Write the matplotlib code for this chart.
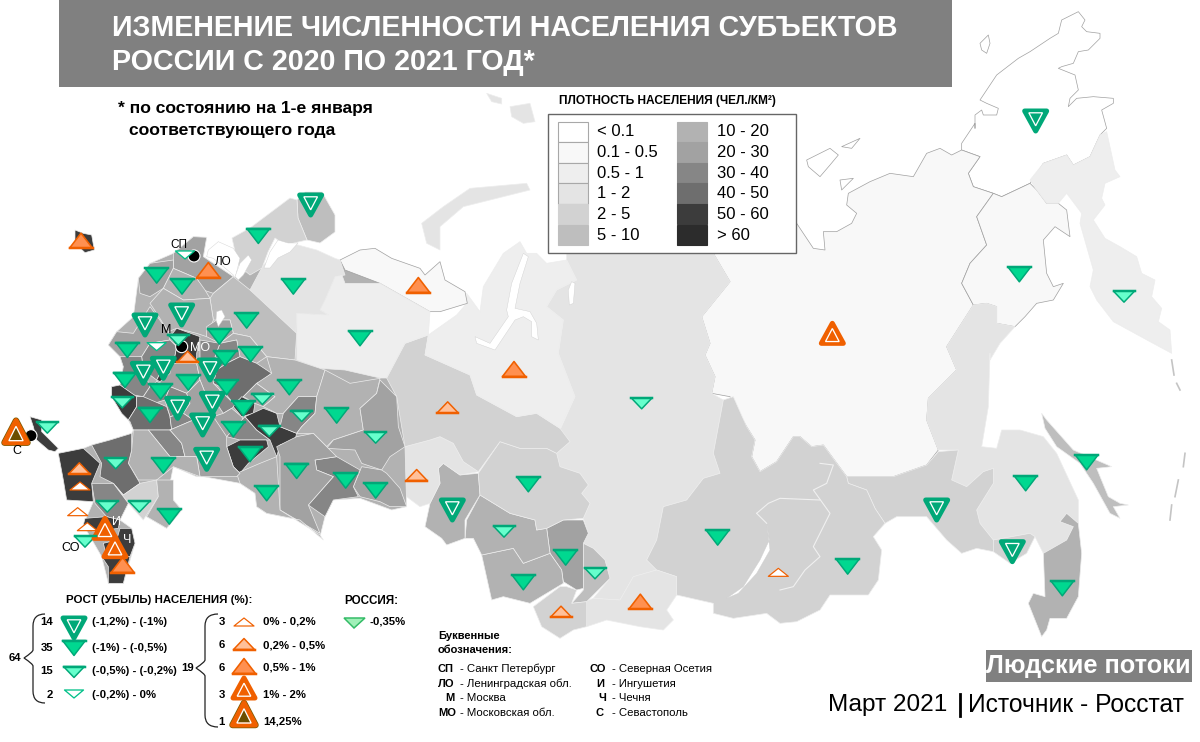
import matplotlib
matplotlib.use('Agg')
import matplotlib.pyplot as plt
from matplotlib.patches import Polygon, Rectangle, Circle, PathPatch
from matplotlib.path import Path

plt.rcParams['font.family'] = ['Liberation Sans', 'DejaVu Sans']


# each zoomed crop of the map has its own offset, outlines below are kept as read from them
def z1(pts):
    return [(x / 3, 200 + y / 3) for x, y in pts]
def z5(pts):
    return [(380 + x / 3, 240 + y / 3) for x, y in pts]
def z6(pts):
    return [(780 + x / 3, 60 + y / 3) for x, y in pts]
def z7(pts):
    return [(780 + x / 3, 340 + y / 3) for x, y in pts]
def z9(pts):
    return [(950 + x / 3, y / 3) for x, y in pts]
def z3(pts):
    return [(420 + x / 3, 80 + y / 3) for x, y in pts]


# density classes
density_labels = ['< 0.1', '0.1 - 0.5', '0.5 - 1', '1 - 2', '2 - 5', '5 - 10',
                  '10 - 20', '20 - 30', '30 - 40', '40 - 50', '50 - 60', '> 60']
density_colors = ['#ffffff', '#f8f8f8', '#eeeeee', '#e4e4e4', '#d2d2d2', '#bebebe',
                  '#b2b2b2', '#a2a2a2', '#868686', '#6e6e6e', '#3c3c3c', '#2c2c2c']

# far east and siberia
chukotka = z9([(75, 385), (75, 345), (95, 330), (100, 345), (140, 345), (145, 325), (110, 310), (90, 300), (130, 240),
               (140, 225), (205, 175), (240, 155), (300, 115), (325, 100), (335, 60), (385, 35), (405, 60), (395, 80),
               (410, 95), (450, 100), (450, 115), (415, 150), (385, 155), (370, 190), (335, 200), (325, 205), (375, 225),
               (385, 270), (360, 295), (355, 320), (380, 295), (430, 290), (490, 295), (490, 310), (455, 330), (470, 385)]) + \
    z6([(960, 225), (930, 290), (880, 315), (860, 285), (790, 310), (750, 370), (665, 410), (640, 400), (580, 380),
        (565, 340), (600, 290), (545, 270), (545, 250), (585, 190)])
wrangel = z9([(90, 130), (115, 105), (120, 130), (110, 160), (95, 150)])
sib_island_a = z6([(80, 300), (120, 280), (150, 265), (175, 285), (150, 315), (120, 350), (85, 320)])
sib_island_b = z6([(185, 260), (240, 235), (215, 265)])
sib_island_c = z6([(180, 360), (220, 355), (185, 390)])
yakutia = z5([(1000, 40), (1050, 125), (965, 230), (990, 310), (975, 345), (1005, 410), (995, 460), (1050, 470),
              (1100, 560), (1125, 600), (1115, 650), (1140, 695), (1190, 665), (1240, 590), (1260, 590)]) + \
    z7([(95, 320), (130, 315), (200, 410), (340, 410), (440, 375), (475, 330), (440, 240), (445, 175), (530, 90), (500, 20)]) + \
    z6([(580, 735), (545, 670), (570, 610), (620, 555), (590, 470), (640, 400), (580, 380), (565, 340), (600, 290),
        (545, 270), (515, 285), (480, 265), (440, 280), (400, 350), (330, 340), (270, 365), (205, 400), (200, 435),
        (230, 460), (215, 490), (170, 515), (130, 515), (135, 570), (100, 565), (50, 490)])
magadan = z6([(640, 400), (665, 410), (750, 370), (770, 390), (800, 430), (835, 430), (860, 450), (870, 530), (825, 500),
              (790, 540), (800, 640), (820, 680), (850, 670), (820, 720), (770, 730), (735, 770), (705, 800), (650, 790),
              (650, 740), (620, 730), (580, 735), (545, 670), (570, 610), (620, 555), (590, 470)])
kamchatka = z6([(750, 360), (790, 310), (860, 285), (880, 315), (930, 290), (960, 225), (980, 215), (1005, 330),
                (1020, 350), (975, 370), (965, 415), (975, 435), (940, 480), (975, 535), (1020, 560), (1070, 590),
                (1085, 640), (1125, 660), (1115, 710), (1145, 745), (1135, 785), (1170, 810), (1175, 880), (1110, 845),
                (1000, 785), (950, 720), (930, 680), (940, 630), (900, 490), (905, 460), (860, 400), (835, 430),
                (800, 430), (770, 390)])
khabarovsk = z6([(580, 735), (620, 730), (650, 740), (650, 790), (705, 800), (660, 850), (630, 900)]) + \
    z7([(630, 40), (625, 200), (605, 320), (650, 325), (665, 270), (720, 270), (790, 290), (830, 340), (895, 480),
        (895, 550), (860, 520), (840, 545), (880, 560), (860, 600), (790, 640), (765, 590), (750, 580), (640, 600),
        (600, 550), (590, 510), (640, 430), (640, 385), (610, 395), (560, 440), (515, 420), (535, 330), (475, 330),
        (440, 240), (445, 175), (530, 90), (500, 20)])
amur = z7([(475, 335), (535, 330), (515, 420), (560, 440), (610, 395), (640, 385), (640, 430), (590, 510), (600, 550),
           (640, 600), (640, 635), (590, 625), (545, 640), (500, 600), (440, 530), (350, 530), (315, 550), (285, 505),
           (260, 450), (205, 430), (200, 410), (340, 410), (440, 375)])
jewish_ao = z7([(640, 600), (750, 580), (765, 590), (740, 640), (690, 670), (640, 635)])
primorye = z7([(895, 550), (905, 640), (895, 770), (860, 835), (810, 835), (800, 870), (785, 890), (745, 790), (760, 760),
               (795, 770), (790, 640), (860, 600), (880, 560), (840, 545), (860, 520)])
sakhalin = z7([(785, 220), (800, 240), (880, 330), (995, 380), (950, 385), (985, 470), (1020, 490), (1045, 495),
               (1000, 500), (1020, 535), (990, 520), (940, 430), (900, 370), (830, 320), (795, 265)])
east_siberia = z5([(1030, 480), (1060, 470), (1100, 560), (1125, 600), (1115, 650), (1140, 695), (1190, 665), (1240, 590),
                   (1260, 590)]) + \
    z7([(95, 320), (130, 315), (200, 410), (205, 430), (260, 450), (285, 505), (315, 550), (280, 590), (305, 630), (295, 720),
        (265, 765), (150, 765), (120, 810), (50, 845), (0, 850)]) + \
    z5([(1160, 1120), (1060, 1135), (1000, 1120), (1000, 1090), (890, 1065), (890, 1010), (830, 990), (800, 960), (830, 900),
        (850, 800), (920, 780), (970, 715), (1020, 700), (1000, 640)])
krasnoyarsk = z5([(560, 0), (1000, 0), (1000, 40), (1050, 125), (965, 230), (990, 310), (975, 345), (1005, 410), (995, 460),
                  (1030, 480), (1000, 640), (1020, 700), (970, 715), (920, 780), (850, 800), (830, 900), (800, 960), (830, 990),
                  (760, 1010), (720, 1080), (640, 1075), (690, 1015), (675, 960), (640, 925), (610, 910), (625, 880), (610, 835),
                  (630, 790), (605, 760), (625, 735), (600, 700), (540, 680), (530, 640), (570, 605), (540, 570), (585, 470),
                  (535, 340), (550, 240), (500, 200), (530, 150), (590, 120), (560, 60)])
tuva = z5([(640, 1075), (720, 1080), (760, 1010), (830, 990), (890, 1010), (890, 1065), (860, 1110), (880, 1140), (850, 1170),
           (780, 1160), (680, 1140), (620, 1160), (600, 1090)])
khakassia = z5([(610, 910), (640, 925), (675, 960), (690, 1015), (620, 1085), (575, 1090), (610, 1050), (610, 970)])
altai_rep = z5([(460, 1100), (540, 1040), (560, 1040), (590, 1050), (575, 1090), (620, 1085), (620, 1160), (580, 1170),
                (540, 1195), (485, 1160)])
kemerovo = z5([(500, 865), (550, 840), (610, 840), (625, 880), (610, 910), (610, 970), (610, 1045), (590, 1050), (550, 1025),
               (545, 990), (510, 940)])
altai_krai = z5([(305, 945), (400, 925), (430, 970), (510, 940), (545, 990), (550, 1030), (450, 1090), (370, 1070), (335, 1080)])
novosibirsk = z5([(260, 840), (300, 765), (390, 820), (465, 840), (470, 870), (500, 865), (510, 940), (430, 970), (400, 925),
                  (305, 945), (280, 895), (255, 895)])
omsk = z5([(175, 685), (190, 670), (240, 705), (295, 700), (300, 765), (255, 840), (255, 895), (200, 915), (185, 895), (135, 860),
           (150, 790), (180, 730)])
tomsk = z5([(295, 700), (360, 605), (420, 625), (500, 625), (530, 640), (540, 680), (600, 700), (625, 735), (605, 760), (630, 790),
            (610, 835), (550, 840), (500, 865), (470, 870), (465, 840), (390, 820), (300, 765)])
tyumen = z5([(30, 650), (75, 620), (150, 600), (180, 590), (220, 610), (250, 665), (295, 695), (240, 705), (190, 670), (175, 685),
             (180, 730), (150, 790), (120, 800), (80, 770), (60, 745), (20, 700)])
khmao = z5([(20, 400), (75, 310), (145, 285), (135, 345), (270, 405), (290, 465), (410, 530), (470, 520), (540, 565), (570, 605),
            (530, 640), (500, 625), (420, 625), (360, 605), (295, 695), (250, 665), (220, 610), (180, 590), (150, 600), (75, 620),
            (55, 560), (50, 470), (0, 420)])
yanao = z5([(145, 285), (135, 345), (270, 405), (290, 465), (410, 530), (470, 520), (540, 565), (585, 470), (535, 340), (550, 240),
            (500, 200), (530, 150), (590, 120), (560, 60), (500, 70), (470, 40), (440, 40), (420, 5), (370, 40), (310, 140), (300, 215),
            (260, 160), (260, 190), (230, 225)])
ob_gulf = z5([(430, 40), (445, 50), (420, 130), (405, 205), (450, 215), (470, 250), (475, 300), (455, 290), (455, 245), (430, 230),
              (405, 240), (345, 330), (290, 310), (285, 290), (330, 310), (385, 230), (380, 210), (395, 130)])
taz_gulf = z5([(575, 125), (585, 130), (580, 190), (568, 195), (565, 150)])

# north-west and north
novaya_zemlya = z3([(5, 430), (70, 380), (150, 325), (320, 310), (330, 330), (250, 350), (130, 380), (60, 440), (60, 510), (20, 490)])
franz_a = z3([(200, 40), (245, 55), (245, 72), (215, 65)])
franz_b = z3([(270, 80), (330, 70), (345, 125), (310, 130), (275, 110)])
nenets = z5([(-120, 60), (-60, 30), (-15, 25), (35, 55), (120, 85), (135, 105), (180, 65), (195, 120), (255, 155), (262, 190), (180, 215),
             (150, 215), (0, 130), (-105, 90)])
komi = z1([(890, 480), (960, 505), (1035, 510), (1140, 534), (1160, 534), (1215, 430), (1285, 405), (1290, 335),
           (1140, 250), (1035, 250), (1020, 210), (1005, 230), (975, 300), (960, 330), (985, 345), (890, 340)])
arkhangelsk = z1([(750, 270), (790, 195), (830, 160), (855, 125), (894, 135), (950, 150), (1005, 175), (1020, 180), (1035, 225), (1005, 230),
                  (975, 300), (960, 330), (985, 345), (890, 340), (885, 480), (890, 400)])
murmansk = [(297, 200), (305, 192), (322, 192), (335, 215), (335, 232), (320, 243), (307, 240), (298, 218)]
karelia = [(232, 238), (250, 228), (290, 198), (297, 200), (298, 218), (307, 240), (285, 245), (275, 238), (268, 252), (262, 268), (250, 275), (238, 265)]
white_sea = [(278, 240), (288, 243), (298, 243), (290, 252), (278, 258), (270, 268), (264, 268), (270, 252)]

# silhouette under the european regions so no gaps show between them
europe_base = z1([(325, 435), (350, 395), (400, 350), (415, 235), (450, 190), (520, 160), (580, 110), (620, 112), (610, 170), (700, 230),
                  (790, 195), (1020, 180), (1140, 250), (1290, 335), (1215, 430), (1160, 534), (1190, 590), (1215, 740), (1220, 920),
                  (1175, 930), (1080, 895), (1000, 900), (975, 950), (960, 1010), (900, 960), (800, 940), (770, 920), (765, 880),
                  (720, 850), (610, 830), (590, 830), (520, 800), (510, 850), (520, 900), (545, 930), (500, 985), (440, 950), (385, 910),
                  (360, 960), (395, 985), (405, 1030), (370, 1150), (325, 1150), (305, 1070), (250, 975), (280, 905), (200, 900),
                  (190, 840), (175, 760), (250, 745), (275, 735), (330, 720), (395, 700), (400, 690), (385, 660), (365, 640), (335, 590),
                  (335, 560), (360, 555), (370, 500), (360, 470)])

# european centre
leningrad = z1([(520, 160), (580, 110), (620, 112), (610, 170), (700, 230), (640, 280), (610, 270), (590, 235), (520, 205)])
pskov = z1([(415, 235), (450, 190), (520, 180), (520, 205), (490, 265), (450, 290), (420, 280)])
novgorod = z1([(520, 205), (590, 235), (615, 270), (630, 295), (550, 300), (490, 265)])
vologda = z1([(640, 280), (700, 230), (750, 270), (890, 400), (885, 480), (800, 470), (750, 410), (700, 400), (690, 360), (640, 360), (630, 295)])
tver = z1([(450, 310), (490, 265), (550, 300), (630, 295), (640, 360), (620, 410), (590, 400), (530, 385), (505, 395), (470, 340)])
smolensk = z1([(325, 435), (350, 395), (400, 400), (450, 320), (505, 395), (510, 420), (450, 430), (425, 470), (380, 480), (360, 470)])
yaroslavl = z1([(620, 380), (650, 360), (690, 360), (700, 400), (660, 430), (620, 410)])
kostroma = z1([(700, 400), (750, 410), (800, 470), (770, 490), (720, 470), (710, 420), (660, 430)])
ivanovo = z1([(660, 430), (710, 420), (720, 470), (680, 490), (645, 470)])
vladimir = z1([(600, 420), (660, 430), (645, 470), (680, 490), (650, 510), (600, 490)])
nizhny = z1([(680, 490), (720, 470), (770, 490), (815, 520), (790, 540), (770, 550), (730, 590), (700, 610), (660, 560), (640, 550), (650, 510)])
moscow_obl = z1([(510, 410), (530, 385), (600, 410), (590, 460), (590, 490), (520, 490), (530, 440)])
kaluga = z1([(450, 430), (510, 420), (530, 440), (520, 490), (490, 500), (470, 540), (430, 510), (425, 470)])
bryansk = z1([(360, 470), (425, 470), (430, 510), (450, 560), (430, 590), (400, 585), (360, 555), (370, 500)])
tula = z1([(490, 500), (520, 490), (590, 490), (600, 540), (560, 580), (510, 560), (470, 545)])
ryazan = z1([(590, 490), (650, 510), (640, 550), (660, 570), (650, 610), (620, 590), (600, 540)])
orel = z1([(430, 590), (450, 560), (470, 545), (510, 560), (495, 600), (430, 620), (410, 600)])
lipetsk = z1([(510, 560), (560, 580), (570, 610), (550, 640), (510, 650), (495, 600)])
tambov = z1([(560, 580), (600, 540), (620, 590), (650, 610), (640, 650), (580, 660), (550, 640), (570, 610)])
mordovia = z1([(650, 610), (660, 570), (700, 610), (730, 595), (695, 625), (670, 640)])
penza = z1([(640, 650), (670, 640), (695, 625), (725, 650), (735, 670), (680, 710), (640, 700)])
ulyanovsk = z1([(735, 650), (770, 690), (810, 720), (800, 720), (720, 720), (680, 710)])
kursk_dark = z1([(335, 560), (360, 555), (410, 590), (410, 620), (385, 660), (365, 640), (335, 590)])
kursk = z1([(410, 590), (430, 590), (500, 620), (510, 650), (515, 690), (445, 690), (400, 690), (390, 665), (385, 660), (410, 620)])
voronezh = z1([(515, 690), (510, 650), (550, 640), (580, 660), (510, 690), (545, 730), (555, 770), (510, 770), (445, 690)])
tula_dark = z1([(470, 540), (490, 500), (510, 490), (510, 520), (480, 545)])
chuvashia = z1([(700, 620), (725, 590), (765, 610), (760, 640), (725, 650)])
mari = z1([(730, 590), (770, 550), (825, 590), (790, 620), (765, 610)])
tatarstan = z1([(735, 650), (790, 625), (830, 640), (840, 680), (890, 700), (885, 720), (840, 735), (830, 770), (810, 720), (770, 690)])
samara_dark = z1([(680, 740), (720, 720), (800, 720), (805, 740), (745, 790), (720, 820), (700, 800)])
kirov = z1([(770, 550), (815, 520), (800, 470), (885, 480), (975, 510), (960, 560), (950, 590), (895, 590), (850, 640), (830, 640),
            (790, 620), (825, 590)])
udmurtia = z1([(850, 640), (895, 590), (950, 590), (945, 640), (905, 680), (890, 700), (840, 680)])
perm = z1([(975, 510), (1050, 550), (1140, 535), (1130, 580), (1080, 625), (1090, 690), (1000, 720), (980, 740), (940, 700), (890, 700),
           (905, 680), (945, 640), (950, 590)])
sverdlovsk = z1([(1140, 540), (1190, 590), (1195, 680), (1215, 740), (1170, 770), (1145, 810), (1085, 790), (1065, 750), (980, 745), (1000, 720),
                 (1090, 690), (1080, 625), (1130, 580)])
chelyabinsk = z1([(1085, 800), (1145, 810), (1160, 820), (1200, 865), (1220, 920), (1170, 920), (1140, 905), (1080, 890), (1060, 860)])
bashkiria = z1([(945, 780), (1010, 770), (1080, 810), (1060, 860), (1075, 890), (1000, 900), (975, 950), (925, 915), (1000, 830), (950, 810)])
samara = z1([(830, 740), (890, 710), (940, 700), (980, 740), (1010, 770), (945, 780), (950, 810), (1000, 830), (925, 915), (960, 1000), (840, 930), (840, 770)])
saratov = z1([(710, 820), (780, 790), (830, 770), (840, 930), (960, 1005), (970, 1020), (900, 960), (800, 940), (770, 920), (765, 880), (720, 850)])
volgograd_n = z1([(510, 690), (580, 660), (640, 650), (680, 710), (680, 740), (700, 800), (720, 820), (710, 830), (600, 830), (590, 770), (555, 770), (545, 730)])
volgograd = z1([(445, 690), (510, 770), (555, 770), (590, 770), (600, 830), (520, 800), (470, 840), (415, 840), (385, 790), (395, 750), (400, 690)])
rostov = z1([(275, 735), (330, 720), (395, 700), (395, 750), (385, 790), (420, 850), (370, 885), (340, 850), (300, 830), (305, 790)])
kalmykia = z1([(340, 850), (370, 885), (420, 850), (470, 840), (475, 890), (430, 960), (385, 910)])
astrakhan = z1([(470, 840), (520, 840), (520, 900), (545, 930), (500, 985), (440, 950), (475, 890)])
stavropol = z1([(275, 850), (340, 850), (385, 910), (360, 960), (320, 950), (285, 910)])
krasnodar = z1([(175, 760), (250, 745), (300, 790), (275, 850), (280, 905), (200, 900), (190, 840)])
caucasus_w = z1([(255, 955), (320, 950), (360, 960), (355, 985), (280, 995), (250, 975)])
chechnya = z1([(360, 985), (395, 985), (405, 1030), (390, 1070), (320, 1070), (310, 1030), (350, 1020)])
dagestan = z1([(305, 1070), (390, 1070), (370, 1150), (325, 1150), (325, 1100)])
crimea = z1([(90, 650), (125, 660), (125, 695), (175, 745), (165, 755), (145, 750), (110, 720), (100, 680)])
kaliningrad = z1([(225, 90), (250, 100), (275, 105), (283, 150), (255, 158), (225, 130)])

# (region outline, index into density_colors), drawn in this order
regions = [
    (chukotka, 0), (wrangel, 0), (sib_island_a, 0), (sib_island_b, 0), (sib_island_c, 0), (yakutia, 1), (magadan, 1),
    (kamchatka, 2), (khabarovsk, 3), (amur, 4), (jewish_ao, 4),
    (primorye, 6), (sakhalin, 5), (krasnoyarsk, 3), (east_siberia, 4), (tuva, 3), (khakassia, 5), (altai_rep, 4),
    (kemerovo, 7), (altai_krai, 6), (novosibirsk, 6), (omsk, 6), (tomsk, 4), (tyumen, 3), (khmao, 4), (yanao, 2),
    (novaya_zemlya, 3), (franz_a, 3), (franz_b, 3), (europe_base, 6), (nenets, 1), (komi, 2), (arkhangelsk, 3), (murmansk, 5), (karelia, 4),
    (leningrad, 7), (pskov, 7), (novgorod, 6), (vologda, 5), (tver, 6), (smolensk, 7), (yaroslavl, 7), (kostroma, 6), (ivanovo, 8),
    (vladimir, 8), (nizhny, 9), (moscow_obl, 10), (kaluga, 8), (bryansk, 8), (tula, 7), (ryazan, 7), (orel, 8), (lipetsk, 8), (tambov, 7),
    (mordovia, 8), (penza, 7), (ulyanovsk, 8), (kursk_dark, 10), (kursk, 9), (voronezh, 8), (tula_dark, 10), (chuvashia, 10), (mari, 7),
    (tatarstan, 10), (samara_dark, 10), (kirov, 6), (udmurtia, 8), (perm, 6), (sverdlovsk, 7), (chelyabinsk, 7), (bashkiria, 8),
    (samara, 7), (saratov, 6), (volgograd_n, 7), (volgograd, 6), (rostov, 9), (kalmykia, 4), (astrakhan, 6), (stavropol, 8),
    (krasnodar, 10), (caucasus_w, 10), (chechnya, 10), (dagestan, 10), (crimea, 10), (kaliningrad, 10),
]
baikal = z5([(1160, 850), (1168, 900), (1140, 960), (1090, 1040), (1040, 1075), (1075, 1060), (1130, 1000), (1170, 930)])
ladoga = z1([(625, 150), (655, 125), (700, 145), (720, 175), (705, 235), (700, 225), (640, 175), (620, 170)])
rybinsk = z1([(650, 335), (665, 330), (675, 350), (655, 380), (648, 360)])
onega = z1([(720, 190), (745, 165), (755, 180), (730, 225), (715, 240), (705, 230)])
water = [ob_gulf, taz_gulf, white_sea, baikal, ladoga, rybinsk, onega]
kuril_arcs = [z7([(1175, 60), (1182, 105)]), z7([(1190, 130), (1200, 150)]), z7([(1215, 340), (1210, 380)]),
              z7([(1195, 420), (1185, 470)]), z7([(1175, 495), (1170, 540)])]
city_dots = [z1([(582, 168)])[0], z1([(545, 440)])[0], z1([(93, 707)])[0]]

# triangle positions by change class
tri_d4 = z1([(545, 345), (435, 375), (430, 520), (490, 505), (630, 510), (533, 625), (637, 610), (608, 675), (620, 778), (932, 15)]) + \
    z6([(767, 183)]) + z5([(217, 810)]) + z7([(470, 510), (697, 635)])
tri_d3 = z1([(775, 108), (470, 227), (546, 260), (880, 260), (740, 362), (1080, 415), (658, 410), (752, 463), (675, 475), (382, 450),
             (375, 540), (482, 575), (565, 548), (680, 562), (868, 562), (450, 645), (730, 625), (700, 688), (1010, 647), (750, 763),
             (490, 797), (890, 813), (800, 880), (1037, 842), (1127, 872), (508, 950)]) + \
    z5([(445, 733), (557, 953), (430, 1027), (1013, 893)]) + z7([(203, 680), (737, 430), (847, 745), (920, 367)]) + z6([(718, 643)])
tri_d2 = z1([(142, 683), (787, 597), (905, 648), (808, 693), (1127, 713), (347, 790), (322, 920), (418, 920), (255, 1025), (367, 607), (535, 420)]) + \
    z5([(785, 490), (372, 875), (645, 1000)]) + z6([(1032, 710)])
tri_d1 = z1([(555, 165), (470, 440)])
tri_u1 = z1([(233, 935), (262, 980), (240, 858)]) + z5([(1195, 997)])
tri_u2 = z1([(238, 805), (563, 470)]) + z5([(203, 502), (110, 705), (543, 1115)])
tri_u3 = z1([(243, 122), (625, 210), (368, 1095)]) + z5([(115, 135), (402, 387), (781, 1085)])
tri_u4 = z1([(315, 985), (345, 1040)]) + z6([(157, 820)])
tri_u5 = z1([(48, 695)])

# legend rows
down_counts = ['14', '35', '15', '2']
down_labels = ['(-1,2%) - (-1%)', '(-1%) - (-0,5%)', '(-0,5%) - (-0,2%)', '(-0,2%) - 0%']
up_counts = ['3', '6', '6', '3', '1']
up_labels = ['0% - 0,2%', '0,2% - 0,5%', '0,5% - 1%', '1% - 2%', '14,25%']
code_left = [('СП', 'Санкт Петербург'), ('ЛО', 'Ленинградская обл.'), ('М', 'Москва'), ('МО', 'Московская обл.')]
code_right = [('СО', 'Северная Осетия'), ('И', 'Ингушетия'), ('Ч', 'Чечня'), ('С', 'Севастополь')]

PX = 0.72  # one pixel in points at dpi 100

fig = plt.figure(figsize=(12, 7.42), dpi=100)
ax = fig.add_axes([0, 0, 1, 1])
ax.set_xlim(0, 1200)
ax.set_ylim(742, 0)
ax.axis('off')

for outline, shade in regions:
    # low density areas get a thin grey coast, the rest white borders
    edge = '#a0a0a0' if shade <= 1 else '#ededed'
    ax.add_patch(Polygon(outline, closed=True, fc=density_colors[shade], ec=edge, lw=0.5, joinstyle='round'))
for w in water:
    ax.add_patch(Polygon(w, closed=True, fc='white', ec='#d0d0d0', lw=0.3))
for arc in kuril_arcs:
    ax.plot([p[0] for p in arc], [p[1] for p in arc], color='#c4c4c4', lw=1.2)
# borders inside east siberia
for b in [z7([(120, 370), (160, 375), (140, 430), (100, 450), (150, 520), (100, 620), (120, 650), (75, 690), (40, 740), (0, 750)]),
          z5([(1130, 820), (1165, 790), (1200, 775), (1320, 780)]),
          z5([(1130, 820), (1160, 850)])]:
    ax.plot([p[0] for p in b], [p[1] for p in b], color='#f0f0f0', lw=0.8)
for cx, cy in city_dots:
    ax.add_patch(Circle((cx, cy), 6, fc='black', ec='white', lw=0.8))

GREEN_E = '#00a878'
ORANGE_E = '#f06000'
tri_styles = {
    'd4': dict(w=22, h=20, up=False, lw=5, fc='#00a878', ec=GREEN_E, inner=True, band=None),
    'd3': dict(w=23, h=15, up=False, lw=1.5, fc='#00d890', ec=GREEN_E, inner=False, band=GREEN_E),
    'd2': dict(w=21, h=11, up=False, lw=1.5, fc='#66ffcc', ec=GREEN_E, inner=False, band=GREEN_E),
    'd1': dict(w=19, h=8, up=False, lw=1.3, fc='white', ec='#00c088', inner=False, band=None),
    'u1': dict(w=20, h=8, up=True, lw=1.2, fc='white', ec=ORANGE_E, inner=False, band=None),
    'u2': dict(w=21, h=11, up=True, lw=1.5, fc='#ffc09a', ec=ORANGE_E, inner=False, band=ORANGE_E),
    'u3': dict(w=23, h=15, up=True, lw=1.6, fc='#ff9050', ec=ORANGE_E, inner=False, band=ORANGE_E),
    'u4': dict(w=22, h=20, up=True, lw=5, fc=ORANGE_E, ec=ORANGE_E, inner=True, band=None),
    'u5': dict(w=23, h=22, up=True, lw=5, fc='#6b4e00', ec=ORANGE_E, inner=True, band=None),
}


def draw_tri(cx, cy, kind):
    st = tri_styles[kind]
    w, h = st['w'], st['h']
    sign = -1 if st['up'] else 1
    apex = (cx, cy + sign * h / 2)
    base = [(cx - w / 2, cy - sign * h / 2), (cx + w / 2, cy - sign * h / 2)]
    ax.add_patch(Polygon([apex] + base, closed=True, fc=st['fc'], ec=st['ec'], lw=st['lw'] * PX, joinstyle='round', zorder=5))
    if st['band']:
        # the flat side of the marker is darker
        ax.plot([base[0][0], base[1][0]], [base[0][1], base[1][1]], color=st['band'], lw=2.5 * PX, zorder=6)
    if st['inner']:
        s = 0.62
        my = cy - sign * h / 10
        pts = [(cx, my + sign * h * s / 2 * 1.1), (cx - w * s / 2, my - sign * h * s / 2), (cx + w * s / 2, my - sign * h * s / 2)]
        ax.add_patch(Polygon(pts, closed=True, fc='none', ec='white', lw=1.3 * PX, zorder=6))
    if kind == 'u5':
        ax.add_patch(Polygon([apex] + base, closed=True, fc='none', ec='#7a5a00', lw=6.5 * PX, joinstyle='round', zorder=4))


for pts, kind in [(tri_d4, 'd4'), (tri_d3, 'd3'), (tri_d2, 'd2'), (tri_d1, 'd1'), (tri_u1, 'u1'), (tri_u2, 'u2'),
                  (tri_u3, 'u3'), (tri_u4, 'u4'), (tri_u5, 'u5')]:
    for cx, cy in pts:
        draw_tri(cx, cy, kind)

# title band
ax.add_patch(Rectangle((59, 0), 893, 87, fc='#808080', ec='none', zorder=7))
ax.text(112, 28, 'ИЗМЕНЕНИЕ ЧИСЛЕННОСТИ НАСЕЛЕНИЯ СУБЪЕКТОВ', color='white', fontsize=20.65, fontweight='bold', va='center', zorder=8)
ax.text(112, 62, 'РОССИИ С 2020 ПО 2021 ГОД*', color='white', fontsize=20.65, fontweight='bold', va='center', zorder=8)
ax.text(118, 109, '* по состоянию на 1-е января', fontsize=12.6, fontweight='bold', va='center', zorder=8)
ax.text(129, 130, 'соответствующего года', fontsize=12.6, fontweight='bold', va='center', zorder=8)

# density legend
ax.text(559, 101, 'ПЛОТНОСТЬ НАСЕЛЕНИЯ (ЧЕЛ./КМ²)', fontsize=8.55, fontweight='bold', va='center', zorder=8)
ax.add_patch(Rectangle((547.5, 113.5), 248, 139, fc='white', ec='#666666', lw=1, zorder=7))
for i, (lab, col) in enumerate(zip(density_labels, density_colors)):
    row = i % 6
    left = 557.5 if i < 6 else 676.5
    ax.add_patch(Rectangle((left, 121.5 + row * 20.6), 30, 20.6, fc=col, ec='#a8a8a8' if i < 4 else col, lw=0.8, zorder=8))
    ax.text(left + 39.5 + (1 if i > 5 else 0), 132 + row * 20.6, lab, fontsize=12, va='center', zorder=8)

# change legend
ax.text(66, 600, 'РОСТ (УБЫЛЬ) НАСЕЛЕНИЯ (%):', fontsize=8.25, fontweight='bold', va='center')
ax.text(344, 601, 'РОССИЯ:', fontsize=8.4, fontweight='bold', va='center')
legend_y_down = [622, 648, 671, 695]
legend_y_up = [622, 645, 668, 695, 722]
for y, c, lab, kind, ty in zip(legend_y_down, down_counts, down_labels, ['d4', 'd3', 'd2', 'd1'], [628, 648, 672, 694]):
    ax.text(53, y, c, fontsize=8.2, fontweight='bold', ha='right', va='center')
    ax.text(92, y, lab, fontsize=8.2, fontweight='bold', va='center')
    draw_tri(74, ty, kind)
for y, c, lab, kind, ty in zip(legend_y_up, up_counts, up_labels, ['u1', 'u2', 'u3', 'u4', 'u5'], [622, 644, 666, 688, 714]):
    ax.text(225, y, c, fontsize=8.2, fontweight='bold', ha='right', va='center')
    ax.text(263, y, lab, fontsize=8.2, fontweight='bold', va='center')
    draw_tri(244, ty, kind)
ax.add_patch(Polygon([(354, 628), (344, 618), (365, 618)], closed=True, fc='#a0f0b8', ec='#33bb66', lw=1.5 * PX, zorder=5))
ax.text(370, 622, '-0,35%', fontsize=8.2, fontweight='bold', va='center')
ax.text(15, 658, '64', fontsize=8.2, fontweight='bold', ha='center', va='center')
ax.text(188, 668, '19', fontsize=8.2, fontweight='bold', ha='center', va='center')


def brace(x_end, x_mid, x_tip, y_top, y_tip, y_bot):
    verts = [(x_end, y_top), (x_mid, y_top), (x_mid, y_top + 12), (x_mid, y_tip - 8), (x_mid, y_tip - 6), (x_tip, y_tip),
             (x_mid, y_tip + 6), (x_mid, y_tip + 8), (x_mid, y_bot - 12), (x_mid, y_bot), (x_end, y_bot)]
    codes = [Path.MOVETO, Path.CURVE3, Path.CURVE3, Path.LINETO, Path.CURVE3, Path.CURVE3, Path.CURVE3, Path.CURVE3, Path.LINETO,
             Path.CURVE3, Path.CURVE3]
    ax.add_patch(PathPatch(Path(verts, codes), fc='none', ec='#222222', lw=0.9))


brace(45, 33, 24, 614, 658, 703)
brace(218, 205, 196, 614, 668, 727)

# letter codes
ax.text(438, 636, 'Буквенные', fontsize=8, fontweight='bold', va='center')
ax.text(438, 650, 'обозначения:', fontsize=8, fontweight='bold', va='center')
code_y = [669, 684, 698, 713]
for y, (c, name), cx in zip(code_y, code_left, [438, 438, 445, 438]):
    ax.text(cx, y, c, fontsize=8, fontweight='bold', va='center')
    ax.text(460, y, '- ' + name, fontsize=8.2, va='center')
for y, (c, name), cx in zip(code_y, code_right, [589, 596, 598, 596]):
    ax.text(cx, y, c, fontsize=8, fontweight='bold', va='center')
    ax.text(612, y, '- ' + name, fontsize=8.2, va='center')

# labels on the map
for x, y, s, col, fs in [(179, 245, 'СП', 'black', 8.5), (223, 262, 'ЛО', 'black', 8.5), (166, 330, 'М', 'black', 9), (200, 348, 'МО', 'white', 9),
                         (17, 451, 'С', 'black', 9), (116, 522, 'И', 'white', 9), (127, 540, 'Ч', 'white', 9), (71, 548, 'СО', 'black', 9)]:
    ax.text(x, y, s, color=col, fontsize=fs, ha='center', va='center', zorder=9)

# footer
ax.add_patch(Rectangle((986, 650), 206, 32, fc='#808080', ec='none', zorder=7))
ax.text(1088, 666, 'Людские потоки', color='white', fontsize=18.3, fontweight='bold', ha='center', va='center', zorder=8)
ax.text(828, 705, 'Март 2021', fontsize=17.6, va='center')
ax.text(968, 705, 'Источник - Росстат', fontsize=17.75, va='center')
ax.plot([960, 960], [694, 716], color='black', lw=2)

fig.savefig('out.png', dpi=100)
